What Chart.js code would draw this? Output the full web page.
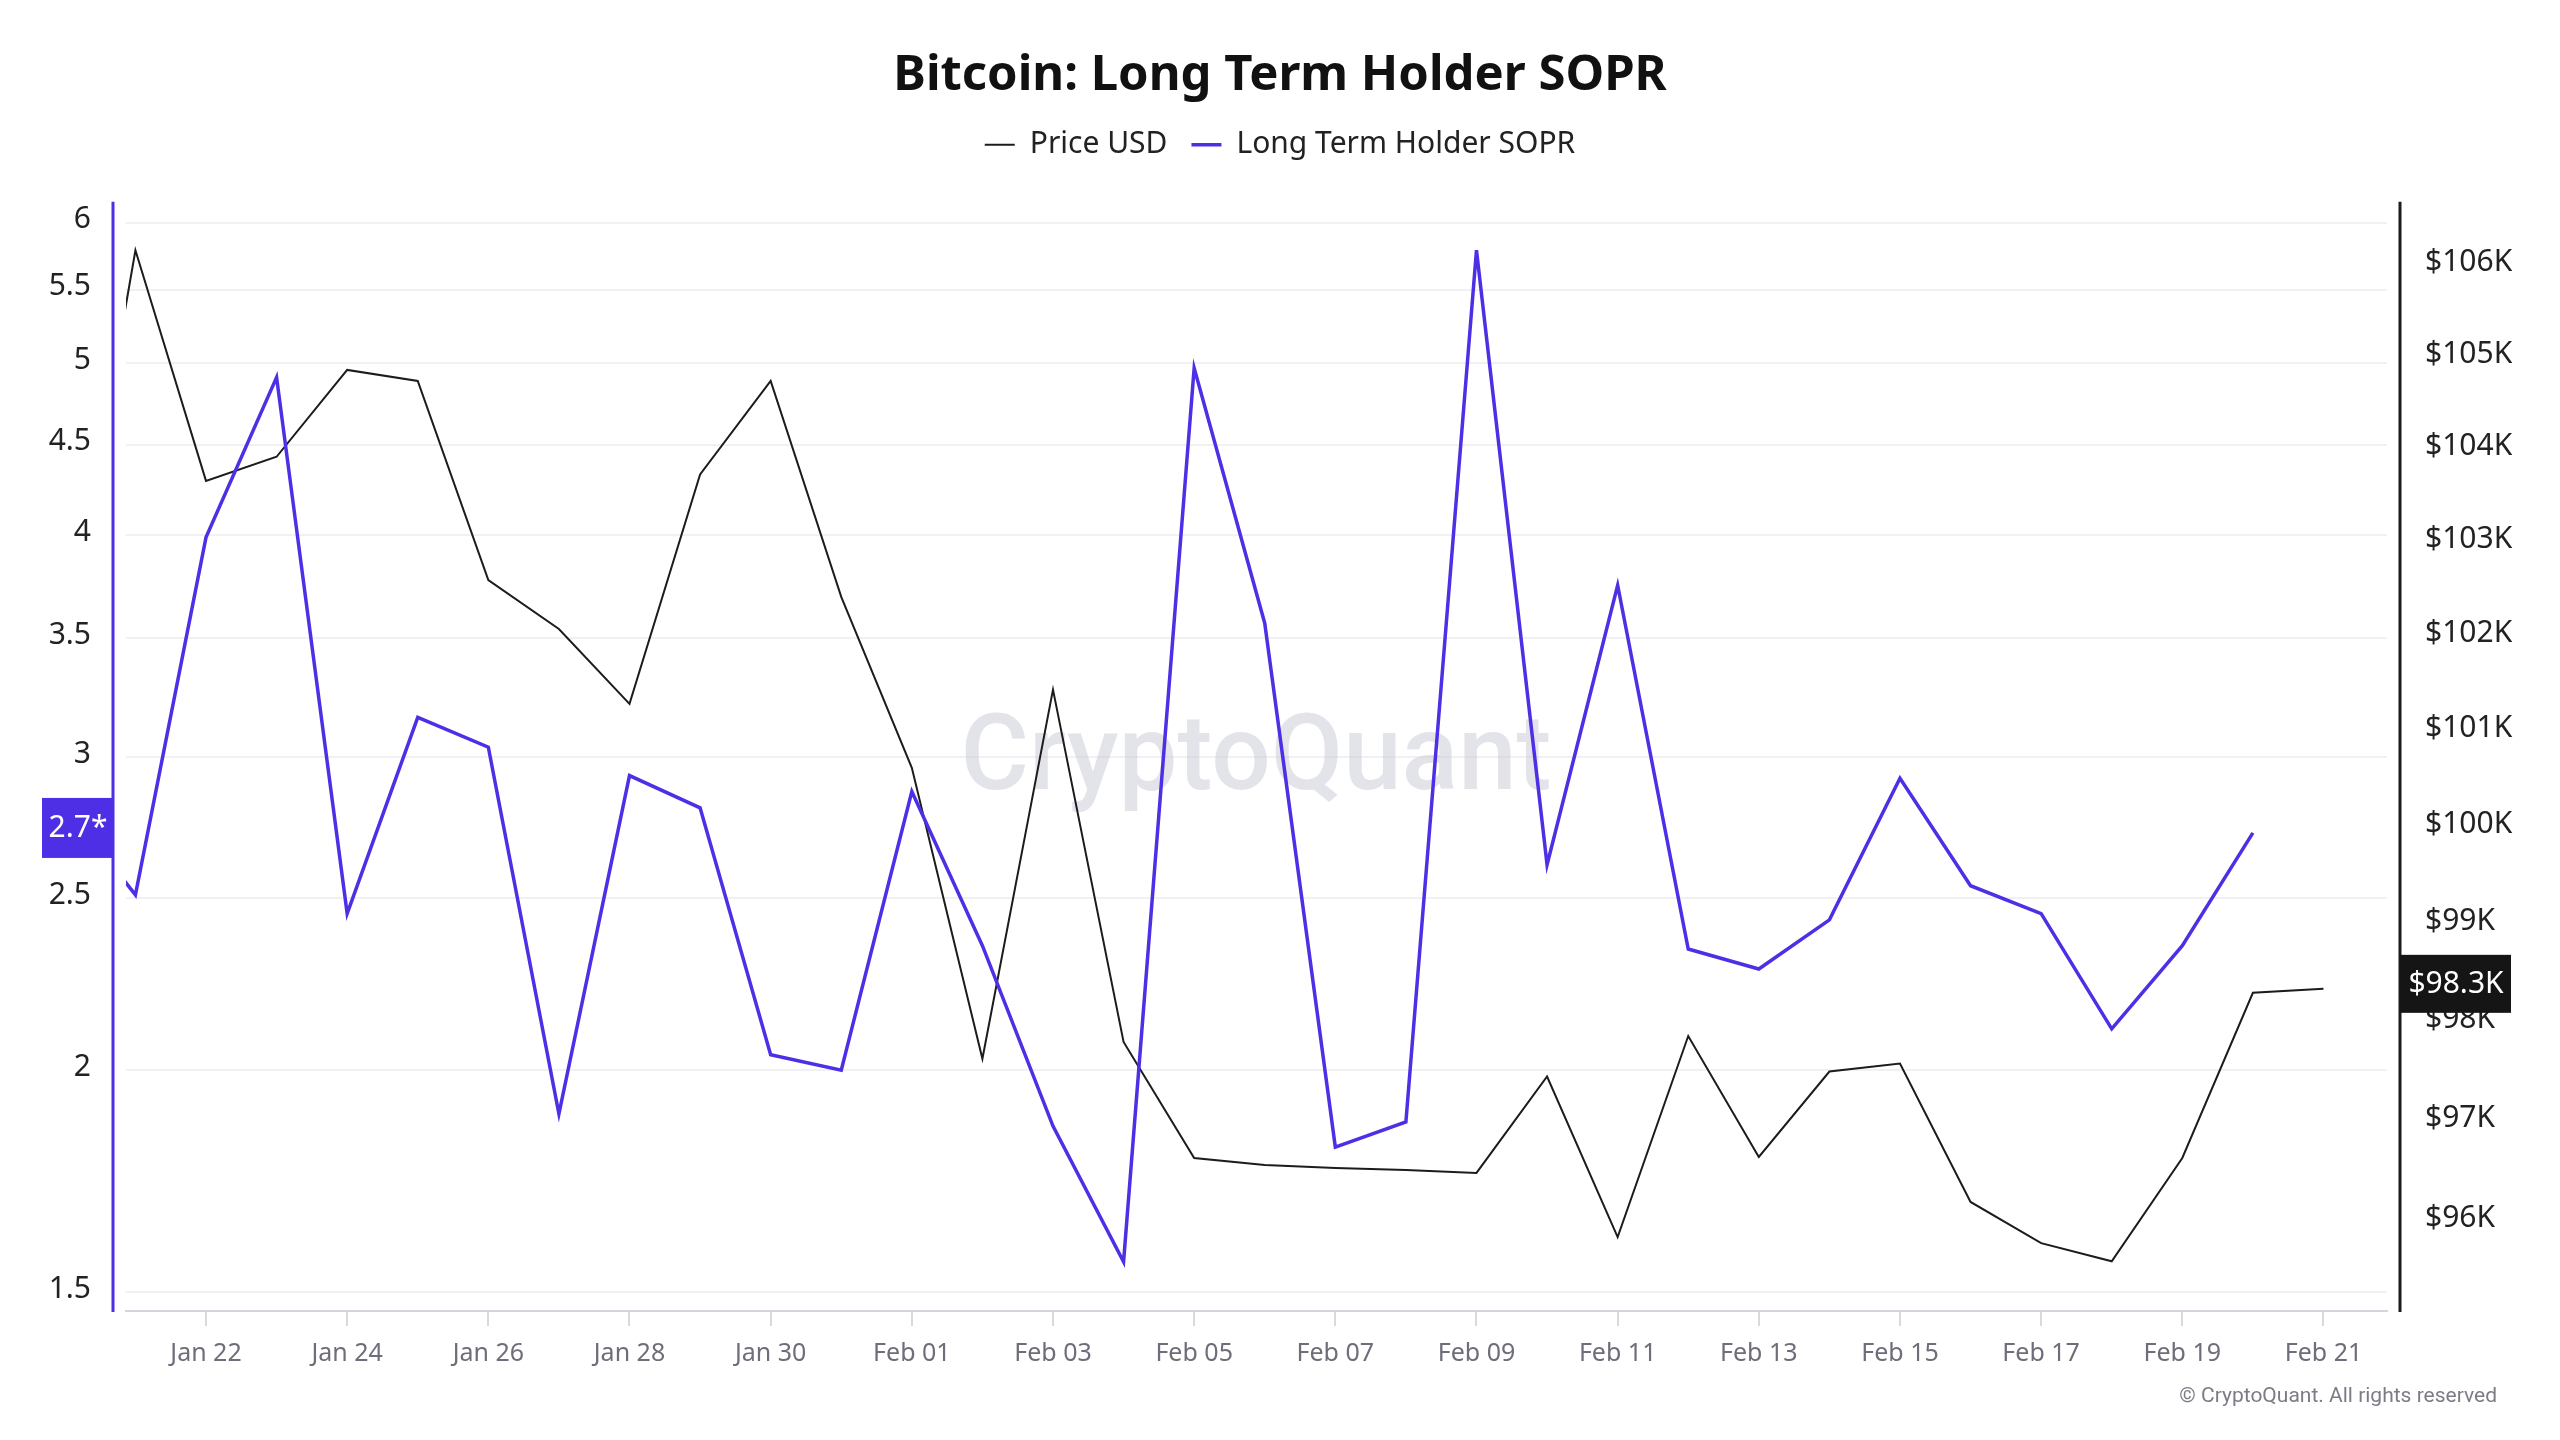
<!DOCTYPE html>
<html>
<head>
<meta charset="utf-8">
<title>Bitcoin: Long Term Holder SOPR</title>
<script src="https://cdn.jsdelivr.net/npm/chart.js@4.4.1/dist/chart.umd.min.js"></script>
<style>
  html, body { margin: 0; padding: 0; background: #ffffff; }
  #wrap { width: 2560px; height: 1440px; }
</style>
</head>
<body>
<div id="wrap"><canvas id="soprChart" width="2560" height="1440"></canvas></div>
<script>
// daily points, Jan 20 -> Feb 21
const dates = [
  'Jan 20', 'Jan 21', 'Jan 22', 'Jan 23', 'Jan 24', 'Jan 25', 'Jan 26', 'Jan 27',
  'Jan 28', 'Jan 29', 'Jan 30', 'Jan 31', 'Feb 01', 'Feb 02', 'Feb 03', 'Feb 04',
  'Feb 05', 'Feb 06', 'Feb 07', 'Feb 08', 'Feb 09', 'Feb 10', 'Feb 11', 'Feb 12',
  'Feb 13', 'Feb 14', 'Feb 15', 'Feb 16', 'Feb 17', 'Feb 18', 'Feb 19', 'Feb 20',
  'Feb 21',
];

const priceUsd = [
  101780, 106170, 103660, 103920, 104860, 104740, 102600, 102080,
  101290, 103730, 104740, 102420, 100620, 97630, 101440, 97800,
  96630, 96560, 96530, 96510, 96480, 97450, 95840, 97860,
  96640, 97500, 97580, 96190, 95780, 95600, 96630, 98300,
  98340,
];

// SOPR stops one day before price
const lthSopr = [
  2.82, 2.51, 3.99, 4.91, 2.45, 3.16, 3.04, 1.89,
  2.93, 2.81, 2.04, 2.00, 2.87, 2.35, 1.86, 1.56,
  4.97, 3.57, 1.81, 1.87, 5.79, 2.61, 3.75, 2.34,
  2.28, 2.43, 2.92, 2.54, 2.45, 2.11, 2.35, 2.72,
];

const dateTicks = [
  'Jan 22', 'Jan 24', 'Jan 26', 'Jan 28', 'Jan 30', 'Feb 01', 'Feb 03', 'Feb 05',
  'Feb 07', 'Feb 09', 'Feb 11', 'Feb 13', 'Feb 15', 'Feb 17', 'Feb 19', 'Feb 21',
];
const soprTicks = [1.5, 2, 2.5, 3, 3.5, 4, 4.5, 5, 5.5, 6];
const priceTicks = [96000, 97000, 98000, 99000, 100000, 101000, 102000, 103000, 104000, 105000, 106000];

const PURPLE = '#4f2fe6';
const INK = '#1c1c1c';

Chart.defaults.font.family = '"Noto Sans", sans-serif';
Chart.defaults.color = '#222222';

const decor = {
  id: 'decor',
  beforeInit(chart) {
    // extra room between legend and plot
    const fit = chart.legend.fit;
    chart.legend.fit = function () {
      fit.call(this);
      this.height += 32;
    };
  },
  beforeDatasetsDraw(chart) {
    const { ctx } = chart;
    ctx.save();
    ctx.font = '500 105px Roboto';
    ctx.fillStyle = 'rgba(196, 196, 212, 0.48)';
    ctx.textAlign = 'center';
    ctx.textBaseline = 'alphabetic';
    ctx.fillText('CryptoQuant', 1256, 789);
    ctx.restore();
  },
  afterDraw(chart) {
    const { ctx, chartArea, scales } = chart;
    const leftX = chartArea.left - 13;
    const rightX = chartArea.right + 13;
    ctx.save();

    ctx.lineWidth = 3;
    ctx.strokeStyle = PURPLE;
    ctx.beginPath();
    ctx.moveTo(leftX, chartArea.top);
    ctx.lineTo(leftX, chartArea.bottom + 1);
    ctx.stroke();
    ctx.strokeStyle = INK;
    ctx.beginPath();
    ctx.moveTo(rightX, chartArea.top);
    ctx.lineTo(rightX, chartArea.bottom + 1);
    ctx.stroke();

    // last value tags
    const lastSopr = lthSopr[lthSopr.length - 1];
    const lastPrice = priceUsd[priceUsd.length - 1];
    const ys = scales.y.getPixelForValue(lastSopr) - 5;
    const yp = scales.y1.getPixelForValue(lastPrice) - 5;
    ctx.font = '30px "Noto Sans"';
    ctx.textAlign = 'center';
    ctx.textBaseline = 'middle';

    ctx.fillStyle = PURPLE;
    ctx.fillRect(leftX - 71, ys - 30, 71, 60);
    ctx.fillStyle = '#ffffff';
    ctx.fillText(lastSopr.toFixed(1) + '*', leftX - 35, ys + 1);

    ctx.fillStyle = '#151515';
    ctx.fillRect(rightX, yp - 29, 111, 58);
    ctx.fillStyle = '#ffffff';
    ctx.fillText('$' + (lastPrice / 1000).toFixed(1) + 'K', rightX + 56, yp + 1);

    ctx.font = '21px Roboto';
    ctx.fillStyle = '#7c7c86';
    ctx.textAlign = 'right';
    ctx.fillText('\u00A9 CryptoQuant. All rights reserved', 2497, 1397);
    ctx.restore();
  },
};

new Chart(document.getElementById('soprChart'), {
  type: 'line',
  data: {
    datasets: [
      {
        label: 'Long Term Holder SOPR',
        data: lthSopr.map((v, i) => ({ x: i, y: v })),
        yAxisID: 'y',
        borderColor: PURPLE,
        backgroundColor: PURPLE,
        borderWidth: 3.5,
        pointRadius: 0,
        tension: 0,
      },
      {
        label: 'Price USD',
        data: priceUsd.map((v, i) => ({ x: i, y: v })),
        yAxisID: 'y1',
        borderColor: INK,
        backgroundColor: INK,
        borderWidth: 2,
        pointRadius: 0,
        tension: 0,
      },
    ],
  },
  options: {
    responsive: false,
    animation: false,
    layout: { padding: 0 },
    plugins: {
      title: {
        display: true,
        text: 'Bitcoin: Long Term Holder SOPR',
        color: '#111111',
        font: { size: 49, weight: 'bold' },
        padding: { top: 47, bottom: 0 },
      },
      legend: {
        position: 'top',
        labels: {
          usePointStyle: true,
          pointStyle: 'line',
          pointStyleWidth: 30,
          padding: 24,
          color: '#222222',
          font: { size: 30 },
          sort: (a, b) => b.datasetIndex - a.datasetIndex,
        },
      },
      tooltip: { enabled: false },
    },
    scales: {
      x: {
        type: 'linear',
        min: 0.8665,
        max: 32.9,
        afterBuildTicks: (axis) => {
          axis.ticks = dateTicks.map((d) => ({ value: dates.indexOf(d) }));
        },
        afterFit: (axis) => { axis.height = 129; },
        ticks: {
          callback: (value) => dates[value],
          color: '#6e6e7a',
          font: { size: 25 },
          padding: 13,
          maxRotation: 0,
          autoSkip: false,
        },
        grid: {
          drawOnChartArea: false,
          drawTicks: true,
          tickLength: 15,
          color: '#d9d9e0',
          lineWidth: 2,
        },
        border: { display: true, color: '#d5d5de', width: 2 },
      },
      y: {
        type: 'logarithmic',
        position: 'left',
        min: 1.4635,
        max: 6.165,
        afterBuildTicks: (axis) => {
          axis.ticks = soprTicks.map((v) => ({ value: v }));
        },
        afterFit: (axis) => { axis.width = 126; },
        ticks: {
          callback: (value) => String(value),
          color: '#222222',
          font: { size: 30 },
          padding: 35,
          labelOffset: -3,
          autoSkip: false,
        },
        grid: { color: '#f1f1f4', lineWidth: 2, drawTicks: false },
        border: { display: false },
      },
      y1: {
        type: 'logarithmic',
        position: 'right',
        min: 95108,
        max: 106705,
        afterBuildTicks: (axis) => {
          axis.ticks = priceTicks.map((v) => ({ value: v }));
        },
        afterFit: (axis) => { axis.width = 173; },
        ticks: {
          callback: (value) => '$' + value / 1000 + 'K',
          color: '#222222',
          font: { size: 30 },
          padding: 38,
          labelOffset: -3,
          autoSkip: false,
        },
        grid: { drawOnChartArea: false, drawTicks: false },
        border: { display: false },
      },
    },
  },
  plugins: [decor],
});
</script>
</body>
</html>
